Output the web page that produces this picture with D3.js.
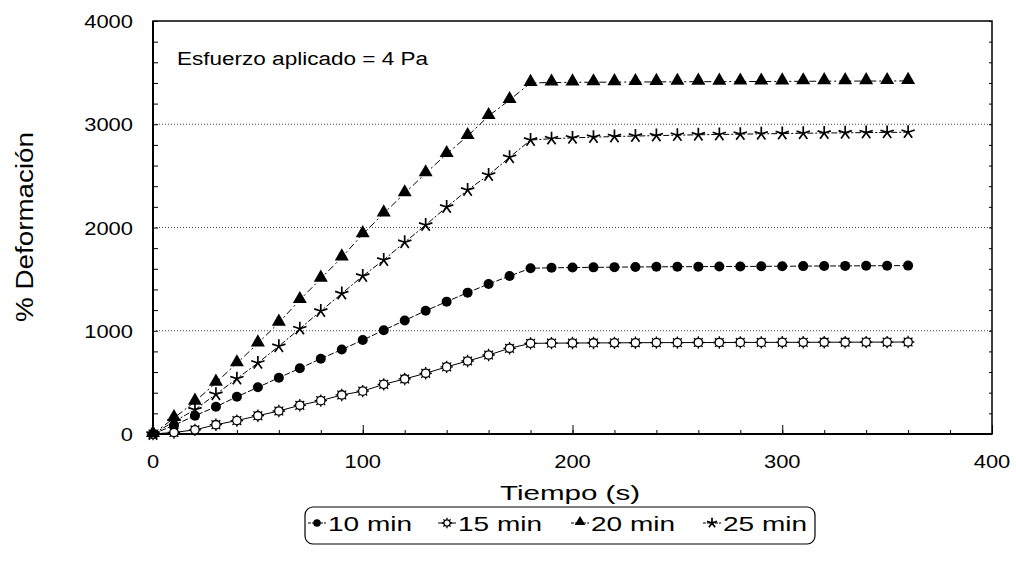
<!DOCTYPE html>
<html>
<head>
<meta charset="utf-8">
<script src="https://cdn.jsdelivr.net/npm/d3@7/dist/d3.min.js"></script>
<style>
  body { margin: 0; background: #fff; }
  svg { font-family: "Liberation Sans", Arial, sans-serif; }
</style>
</head>
<body>
<svg id="chart" width="1016" height="564"></svg>
<script>
// tiempo (s), cada 10 s
var tiempo = [0, 10, 20, 30, 40, 50, 60, 70, 80, 90, 100, 110, 120, 130, 140, 150, 160, 170, 180,
  190, 200, 210, 220, 230, 240, 250, 260, 270, 280, 290, 300, 310, 320, 330, 340, 350, 360];

var min10 = [0, 85, 177, 264, 361, 452, 545, 636, 729, 818, 910, 1005, 1100, 1194, 1282, 1369, 1453, 1530, 1605,
  1610, 1612, 1614, 1616, 1618, 1619, 1620, 1621, 1622, 1623, 1624, 1625, 1626, 1627, 1628, 1629, 1630, 1631];
var min15 = [0, 15, 40, 90, 130, 177, 223, 278, 323, 378, 415, 481, 533, 588, 650, 707, 765, 830, 878,
  880, 881, 882, 883, 884, 885, 885, 886, 886, 887, 887, 888, 888, 889, 889, 890, 890, 891];
var min20 = [0, 155, 313, 497, 685, 878, 1078, 1298, 1505, 1711, 1935, 2137, 2331, 2525, 2712, 2886, 3080, 3235, 3400,
  3404, 3406, 3407, 3408, 3409, 3410, 3411, 3412, 3413, 3414, 3414, 3415, 3416, 3417, 3418, 3418, 3419, 3420];
var min25 = [0, 120, 235, 385, 536, 688, 850, 1020, 1191, 1360, 1530, 1685, 1857, 2024, 2198, 2363, 2508, 2680, 2847,
  2860, 2868, 2875, 2881, 2886, 2890, 2894, 2898, 2901, 2904, 2907, 2910, 2913, 2915, 2917, 2919, 2921, 2923];

var seriesNames = ["10 min", "15 min", "20 min", "25 min"];
var xTicks = [0, 100, 200, 300, 400];
var yTicks = [0, 1000, 2000, 3000, 4000];

var svg = d3.select("#chart");
var plotLeft = 153, plotRight = 992, plotTop = 21, plotBottom = 434;

var x = d3.scaleLinear().domain([0, 400]).range([plotLeft, plotRight]);
var y = d3.scaleLinear().domain([0, 4000]).range([plotBottom, plotTop]);

// grid lines (dotted)
svg.append("g")
  .selectAll("line")
  .data([1000, 2000, 3000])
  .enter()
  .append("line")
  .attr("x1", plotLeft)
  .attr("x2", plotRight)
  .attr("y1", (d) => y(d))
  .attr("y2", (d) => y(d))
  .attr("stroke", "#444")
  .attr("stroke-width", 1)
  .attr("stroke-dasharray", "1,2");

// ticks, pointing inward
var yAxis = d3.axisRight(y).tickValues(d3.range(0, 4001, 200)).tickSize(5).tickFormat("");
svg.append("g").attr("transform", `translate(${plotLeft}, 0)`).call(yAxis)
  .call((g) => g.select(".domain").remove());
var yAxisR = d3.axisLeft(y).tickValues(d3.range(0, 4001, 200)).tickSize(3).tickFormat("");
svg.append("g").attr("transform", `translate(${plotRight}, 0)`).call(yAxisR)
  .call((g) => g.select(".domain").remove());

var xAxis = d3.axisTop(x).tickValues(d3.range(0, 401, 20)).tickSize(4).tickFormat("");
svg.append("g").attr("transform", `translate(0, ${plotBottom})`).call(xAxis)
  .call((g) => g.select(".domain").remove());
var xAxisMajor = d3.axisTop(x).tickValues(xTicks).tickSize(9).tickFormat("");
svg.append("g").attr("transform", `translate(0, ${plotBottom})`).call(xAxisMajor)
  .call((g) => g.select(".domain").remove());

// tick labels (the scan is a bit wide, so stretch the digits)
svg.append("g")
  .selectAll("text")
  .data(yTicks)
  .enter()
  .append("text")
  .attr("x", plotLeft - 20)
  .attr("y", (d) => y(d) + 7)
  .attr("text-anchor", "end")
  .attr("font-size", 18.5)
  .attr("textLength", (d) => String(d).length * 12.2)
  .attr("lengthAdjust", "spacingAndGlyphs")
  .text((d) => d);

svg.append("g")
  .selectAll("text")
  .data(xTicks)
  .enter()
  .append("text")
  .attr("x", (d) => x(d))
  .attr("y", plotBottom + 34)
  .attr("text-anchor", "middle")
  .attr("font-size", 18.5)
  .attr("textLength", (d) => String(d).length * 12.2)
  .attr("lengthAdjust", "spacingAndGlyphs")
  .text((d) => d);

// frame
svg.append("rect")
  .attr("x", plotLeft)
  .attr("y", plotTop)
  .attr("width", plotRight - plotLeft)
  .attr("height", plotBottom - plotTop)
  .attr("fill", "none")
  .attr("stroke", "black")
  .attr("stroke-width", 1.5);
svg.append("line")
  .attr("x1", plotLeft).attr("x2", plotLeft).attr("y1", plotTop).attr("y2", plotBottom)
  .attr("stroke", "black").attr("stroke-width", 2);
svg.append("line")
  .attr("x1", plotLeft).attr("x2", plotRight).attr("y1", plotBottom).attr("y2", plotBottom)
  .attr("stroke", "black").attr("stroke-width", 2);

// axis titles
svg.append("text")
  .attr("x", 570)
  .attr("y", 500)
  .attr("text-anchor", "middle")
  .attr("font-size", 21)
  .attr("textLength", 140)
  .attr("lengthAdjust", "spacingAndGlyphs")
  .text("Tiempo (s)");

svg.append("text")
  .attr("transform", "translate(33, 227) rotate(-90)")
  .attr("text-anchor", "middle")
  .attr("font-size", 23)
  .attr("textLength", 190)
  .attr("lengthAdjust", "spacingAndGlyphs")
  .text("% Deformación");

svg.append("text")
  .attr("x", 177)
  .attr("y", 65)
  .attr("font-size", 18)
  .attr("textLength", 251)
  .attr("lengthAdjust", "spacingAndGlyphs")
  .text("Esfuerzo aplicado = 4 Pa");

// marker shapes
function starPath(r) {
  var p = "";
  for (var i = 0; i < 5; i++) {
    var a = -Math.PI / 2 + (i * 2 * Math.PI) / 5;
    p += `M0,0L${(r * Math.cos(a)).toFixed(2)},${(r * Math.sin(a)).toFixed(2)}`;
  }
  return p;
}
function sunPath(r) {
  var p = "";
  for (var i = 0; i < 8; i++) {
    var a = (i * Math.PI) / 4;
    p += `M${(r * Math.cos(a)).toFixed(2)},${(r * Math.sin(a)).toFixed(2)}L${((r + 2) * Math.cos(a)).toFixed(2)},${((r + 2) * Math.sin(a)).toFixed(2)}`;
  }
  return p;
}

function drawMarker(g, kind, big) {
  var k = big ? 1 : 0.75;
  if (kind == 0) {
    g.append("circle").attr("r", 5 * k).attr("fill", "black");
  } else if (kind == 1) {
    g.append("circle").attr("r", 4.2 * k).attr("fill", "white").attr("stroke", "black").attr("stroke-width", 1.3);
    g.append("path").attr("d", sunPath(4.2 * k)).attr("stroke", "black").attr("stroke-width", 1.3);
  } else if (kind == 2) {
    g.append("path").attr("d", d3.symbol().type(d3.symbolTriangle).size(85 * k * k)()).attr("fill", "black")
      .attr("transform", "translate(0,-1)");
  } else {
    g.append("path").attr("d", starPath(7 * k)).attr("stroke", "black").attr("stroke-width", 1.7)
      .attr("fill", "none");
  }
}

var allSeries = [min10, min15, min20, min25];
var dashes = ["6,2", null, "7,3,2,3", "6,2,2,2"];

var line = d3.line()
  .x((d) => x(d[0]))
  .y((d) => y(d[1]));

_each(allSeries, function (vals, si) {
  var pts = tiempo.map((t, i) => [t, vals[i]]);
  svg.append("path")
    .datum(pts)
    .attr("d", line)
    .attr("fill", "none")
    .attr("stroke", "black")
    .attr("stroke-width", 1)
    .attr("stroke-dasharray", dashes[si]);
});

_each(allSeries, function (vals, si) {
  tiempo.forEach(function (t, i) {
    var g = svg.append("g").attr("transform", `translate(${x(t)}, ${y(vals[i])})`);
    drawMarker(g, si, true);
  });
});

// legend
var legend = svg.append("g");
legend.append("rect")
  .attr("x", 305)
  .attr("y", 507)
  .attr("width", 510)
  .attr("height", 37)
  .attr("rx", 8)
  .attr("fill", "white")
  .attr("stroke", "black")
  .attr("stroke-width", 1.2);

var legendX = [317, 447, 580, 712];
_each(seriesNames, function (name, si) {
  var lx = legendX[si];
  legend.append("line")
    .attr("x1", lx - 9).attr("x2", lx + 9)
    .attr("y1", 523).attr("y2", 523)
    .attr("stroke", "black").attr("stroke-width", 1)
    .attr("stroke-dasharray", dashes[si] ? "3,1" : null);
  var g = legend.append("g").attr("transform", `translate(${lx}, 523)`);
  drawMarker(g, si, false);
  legend.append("text")
    .attr("x", lx + 11)
    .attr("y", 531)
    .attr("font-size", 21)
    .attr("textLength", 84)
    .attr("lengthAdjust", "spacingAndGlyphs")
    .text(name);
});

function _each(arr, fn) {
  arr.forEach(fn);
}
</script>
</body>
</html>
